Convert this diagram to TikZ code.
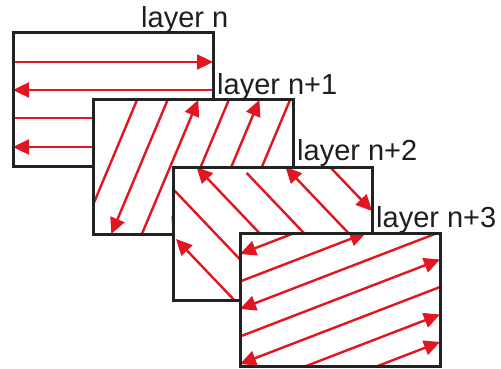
\documentclass[tikz,border=0pt]{standalone}
\usepackage{fontspec}
\setmainfont{Liberation Sans}
\usetikzlibrary{arrows.meta}
\definecolor{arrred}{RGB}{226,22,32}
\definecolor{framegray}{RGB}{34,34,34}
\definecolor{txtgray}{RGB}{30,30,30}
\tikzset{
  sheet/.style={fill=white, draw=none, minimum width=200pt, minimum height=133pt, anchor=north west, inner sep=0pt, outer sep=0pt},
  sheetframe/.style={draw=framegray, line width=3pt},
  redline/.style={draw=arrred, line width=2.4pt},
  redarrow/.style={redline, -{Triangle[length=16pt,width=15pt]}},
  lbl/.style={anchor=base west, inner sep=0pt, text=txtgray, font=\fontsize{29}{32}\selectfont}
}
\begin{document}
\begin{tikzpicture}[x=1pt,y=-1pt]
\useasboundingbox (0,0) rectangle (501,369);

% ---------- layer n ----------
\node[sheet] (L1) at (13,33) {};
\begin{scope}
  \clip (L1.north west) rectangle (L1.south east);
  \draw[redarrow] (13,62) -- (213,62);
  \draw[redarrow] (213,90) -- (13,90);
  \draw[redarrow] (13,118) -- (213,118);
  \draw[redarrow] (213,147) -- (13,147);
\end{scope}
\draw[sheetframe] (L1.north west) rectangle (L1.south east);
\node[lbl] (T1) at (141,28) {layer n};

% ---------- layer n+1 ----------
\node[sheet, minimum height=134pt] (L2) at (93,100) {};
\begin{scope}
  \clip (L2.north west) rectangle (L2.south east);
  \draw[redline] (137,100) -- (93,205);
  \draw[redarrow] (167.6,100) -- (111.3,234);
  \draw[redarrow] (141.9,234) -- (198.2,100);
  \draw[redarrow] (228.8,100) -- (172.5,234);
  \draw[redarrow] (203.1,234) -- (259.4,100);
  \draw[redarrow] (290,100) -- (233.7,234);
\end{scope}
\draw[sheetframe] (L2.north west) rectangle (L2.south east);
\node[lbl] (T2) at (217,95) {layer n+1};

% ---------- layer n+2 ----------
\node[sheet, minimum width=199pt] (L3) at (173,167) {};
\begin{scope}
  \clip (L3.north west) rectangle (L3.south east);
  \draw[redarrow] (234.2,300) -- (176,239);
  \draw[redarrow] (173,189) -- (278.7,300);
  \draw[redarrow] (323.2,300) -- (196.5,167);
  \draw[redarrow] (246.7,173) -- (367.7,300);
  \draw[redarrow] (372,257.8) -- (285.5,167);
  \draw[redarrow] (330,167) -- (372,211);
\end{scope}
\draw[sheetframe] (L3.north west) rectangle (L3.south east);
\node[lbl] (T3) at (297,160) {layer n+2};

% ---------- layer n+3 ----------
\node[sheet] (L4) at (240,233) {};
\begin{scope}
  \clip (L4.north west) rectangle (L4.south east);
  \draw[redarrow] (294.5,233) -- (240,254);
  \draw[redarrow] (240,281.5) -- (366,233);
  \draw[redarrow] (437.4,233) -- (240,309);
  \draw[redarrow] (240,336.5) -- (440,259.5);
  \draw[redarrow] (440,287) -- (240,364);
  \draw[redarrow] (306.2,366) -- (440,314.5);
  \draw[redarrow] (377.7,366) -- (440,342);
\end{scope}
\draw[sheetframe] (L4.north west) rectangle (L4.south east);
\node[lbl] (T4) at (376,227) {layer n+3};
\end{tikzpicture}
\end{document}
